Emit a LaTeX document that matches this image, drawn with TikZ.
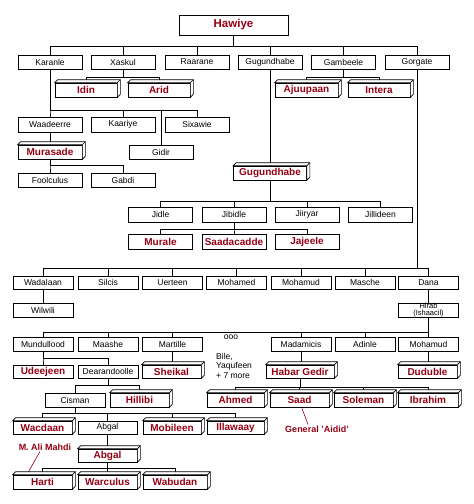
\documentclass[tikz,border=0pt]{standalone}
\usepackage{fontspec}
\setmainfont{Liberation Sans}
\usetikzlibrary{calc}
\definecolor{clanred}{RGB}{150,0,20}
\pgfdeclarelayer{bg}
\pgfsetlayers{bg,main}
\begin{document}
\begin{tikzpicture}[x=1pt,y=-1pt,
  every node/.style={inner sep=0pt},
  conn/.style={draw, line width=0.7pt},
  box/.style={draw, line width=0.7pt, fill=white, minimum width=#1, minimum height=14pt, font=\fontsize{8.5}{9}\selectfont},
  box/.default=64pt,
  rbox/.style={box=#1, text=clanred, font=\fontsize{10}{11}\selectfont\bfseries},
  rbox/.default=64pt,
  lbl/.style={font=\fontsize{8.5}{9.5}\selectfont, align=left},
  rlbl/.style={font=\fontsize{9}{10}\selectfont\bfseries, text=clanred}]
\useasboundingbox (0,0) rectangle (474,504);
% top
\node[box=109pt, minimum height=20pt, text=clanred, font=\fontsize{11.5}{12}\selectfont\bfseries] (hawiye) at (233.5,25) {Hawiye};
\node[box] (karanle) at (50,62) {Karanle};
\node[box] (xaskul) at (123,62) {Xaskul};
\node[box] (raarane) at (197,62) {Raarane};
\node[box] (gugundhabe) at (270,62) {Gugundhabe};
\node[box] (gambeele) at (343.5,62) {Gambeele};
\node[box] (gorgate) at (417,62) {Gorgate};
\node[rbox=62pt] (idin) at (86,90) {Idin};
\node[rbox=62pt] (arid) at (159,90) {Arid};
\node[rbox=63pt] (ajuupaan) at (306.5,90) {Ajuupaan};
\node[rbox=62pt] (intera) at (379,90) {Intera};
% Karanle branch
\node[box, minimum height=15pt] (waadeerre) at (50,124.5) {Waadeerre};
\node[box, minimum height=15pt] (kaariye) at (123,124.5) {Kaariye};
\node[box, minimum height=15pt] (sixawie) at (197,124.5) {Sixawie};
\node[box] (gidir) at (161,152) {Gidir};
\node[rbox] (murasade) at (50,152) {Murasade};
\node[box] (foolculus) at (50,180) {Foolculus};
\node[box] (gabdi) at (123,180) {Gabdi};
% Gugundhabe branch
\node[rbox=73pt] (gugb) at (270,173) {Gugundhabe};
\node[box, minimum height=15pt] (jidle) at (160.5,214.5) {Jidle};
\node[box, minimum height=15pt] (jibidle) at (234,214.5) {Jibidle};
\node[box, minimum height=15pt] (jiiryar) at (307,214.5) {Jiiryar};
\node[box, minimum height=15pt] (jillideen) at (380.5,214.5) {Jillideen};
\node[rbox, minimum height=15pt] (murale) at (160.5,241.5) {Murale};
\node[rbox, minimum height=15pt] (saadacadde) at (234,241.5) {Saadacadde};
\node[rbox, minimum height=15pt] (jajeele) at (307,241.5) {Jajeele};
% Gorgate branch
\node[box=60pt, minimum height=13pt] (wadalaan) at (43,282.5) {Wadalaan};
\node[box=60pt, minimum height=13pt] (silcis) at (108,282.5) {Silcis};
\node[box=60pt, minimum height=13pt] (uerteen) at (172.5,282.5) {Uerteen};
\node[box=60pt, minimum height=13pt] (mohamed) at (236.5,282.5) {Mohamed};
\node[box=60pt, minimum height=13pt] (mohamud) at (301,282.5) {Mohamud};
\node[box=60pt, minimum height=13pt] (masche) at (365,282.5) {Masche};
\node[box=60pt, minimum height=13pt] (dana) at (428.5,282.5) {Dana};
\node[box=60pt] (wilwili) at (43,310) {Wilwili};
\node[box=60pt, align=center, font=\fontsize{7.5}{6.5}\selectfont] (hirab) at (428.5,310) {Hirab\\(Ishaacil)};
\node[box=60pt] (mundullood) at (43,344) {Mundullood};
\node[box=60pt] (maashe) at (108,344) {Maashe};
\node[box=60pt] (martille) at (172.5,344) {Martille};
\node[box=60pt] (madamicis) at (301,344) {Madamicis};
\node[box=60pt] (adinle) at (365,344) {Adinle};
\node[box=60pt] (mohamudb) at (428.5,344) {Mohamud};
\node[lbl] (ooo) at (231,337) {ooo};
\node[lbl, anchor=north west] (bile) at (216,353) {Bile,\\Yaqufeen\\+ 7 more};
\node[rbox=60pt, minimum height=13pt] (udeejeen) at (43,371.5) {Udeejeen};
\node[box=60pt, minimum height=13pt] (dearandoolle) at (108,371.5) {Dearandoolle};
\node[rbox=59pt, minimum height=13pt] (sheikal) at (171.5,371.5) {Sheikal};
\node[rbox=68pt, minimum height=13pt] (habargedir) at (300,371.5) {Habar Gedir};
\node[rbox=59pt, minimum height=13pt] (duduble) at (427.5,371.5) {Duduble};
\node[rbox=57pt] (ahmed) at (235.5,400) {Ahmed};
\node[rbox=59pt] (saad) at (299.5,400) {Saad};
\node[rbox=59pt] (soleman) at (363.5,400) {Soleman};
\node[rbox=60pt] (ibrahim) at (428,400) {Ibrahim};
\node[rlbl] (aidid) at (317,429) {General 'Aidid'};
\node[box=60pt] (cisman) at (75,400) {Cisman};
\node[rbox=59pt] (hillibi) at (139.5,400) {Hillibi};
\node[rbox=59pt, minimum height=13pt] (wacdaan) at (42.5,427.5) {Wacdaan};
\node[box=59pt, minimum height=13pt] (abgal) at (107.5,427.5) {Abgal};
\node[rbox=58pt, minimum height=13pt] (mobileen) at (172,427.5) {Mobileen};
\node[rbox=57pt, minimum height=13pt] (illawaay) at (235.5,427.5) {Illawaay};
\node[rbox=59pt, minimum height=13pt] (abgalb) at (107.5,455.5) {Abgal};
\node[rlbl] (mahdi) at (45,447) {M. Ali Mahdi};
\node[rbox=59pt] (harti) at (42.5,482) {Harti};
\node[rbox=59pt] (warculus) at (107.5,482) {Warculus};
\node[rbox=64pt] (wabudan) at (175,482) {Wabudan};
% 3D faces
\foreach \nm in {idin,arid,ajuupaan,intera,murasade,gugb,sheikal,habargedir,duduble,ahmed,saad,soleman,ibrahim,hillibi,wacdaan,mobileen,illawaay,abgalb,harti,warculus,wabudan} {
  \draw[conn, fill=white] (\nm.north west) -- ([shift={(3pt,3pt)}]\nm.north west) -- ([shift={(3pt,3pt)}]\nm.north east) -- ([shift={(3pt,3pt)}]\nm.south east) -- (\nm.south east) -- (\nm.north east) -- cycle;
  \draw[conn] (\nm.north east) -- ([shift={(3pt,3pt)}]\nm.north east);
}
\begin{pgfonlayer}{bg}
\fill[white] (0,0) rectangle (474,504);
\foreach \c in {karanle,xaskul,raarane,gugundhabe,gambeele,gorgate}
  \draw[conn] (hawiye.south) -- ++(0,11) -| (\c.north);
\foreach \c in {idin,arid} \draw[conn] (xaskul.south) -- ++(0,8) -| (\c.north);
\foreach \c in {ajuupaan,intera} \draw[conn] (gambeele.south) -- ++(0,8) -| (\c.north);
\foreach \c in {waadeerre,kaariye,sixawie,gidir} \draw[conn] (karanle.south) -- ++(0,41) -| (\c.north);
\draw[conn] (waadeerre.south) -- (murasade.north);
\foreach \c in {foolculus,gabdi} \draw[conn] (murasade.south) -- ++(0,6) -| (\c.north);
\draw[conn] (gugundhabe.south) -- (gugb.north);
\foreach \c in {jidle,jibidle,jiiryar,jillideen} \draw[conn] (gugb.south) -- ++(0,21) -| (\c.north);
\foreach \c in {murale,saadacadde,jajeele} \draw[conn] (jibidle.south) -- ++(0,7) -| (\c.north);
\foreach \c in {wadalaan,silcis,uerteen,mohamed,mohamud,masche,dana} \draw[conn] (gorgate.south) -- ++(0,199) -| (\c.north);
\draw[conn] (wadalaan.south) -- (wilwili.north);
\draw[conn] (dana.south) -- (hirab.north);
\foreach \c in {mundullood,maashe,martille,madamicis,adinle,mohamudb} \draw[conn] (hirab.south) -- ++(0,15) -| (\c.north);
\foreach \c in {udeejeen,dearandoolle} \draw[conn] (mundullood.south) -- ++(0,7) -| (\c.north);
\draw[conn] (martille.south) -- (martille.south |- sheikal.north);
\draw[conn] (madamicis.south) -- (madamicis.south |- habargedir.north);
\draw[conn] (mohamudb.south) -- (mohamudb.south |- duduble.north);
\foreach \c in {ahmed,saad,soleman,ibrahim} \draw[conn] (habargedir.south) -- ++(0,9) -| (\c.north);
\foreach \c in {cisman,hillibi} \draw[conn] (dearandoolle.south) -- ++(0,7) -| (\c.north);
\foreach \c in {wacdaan,abgal,mobileen,illawaay} \draw[conn] (cisman.south) -- ++(0,6) -| (\c.north);
\draw[conn] (abgal.south) -- (abgalb.north);
\foreach \c in {harti,warculus,wabudan} \draw[conn] (abgalb.south) -- ++(0,6) -| (\c.north);
\draw[line width=0.6pt, clanred] ([xshift=-5pt,yshift=-1pt]mahdi.south) -- ([xshift=-14pt,yshift=3pt]harti.north);
\draw[line width=0.6pt, clanred] ([xshift=2.5pt,yshift=-1pt]saad.south) -- ([xshift=-9pt,yshift=1pt]aidid.north);
\end{pgfonlayer}
\end{tikzpicture}
\end{document}
